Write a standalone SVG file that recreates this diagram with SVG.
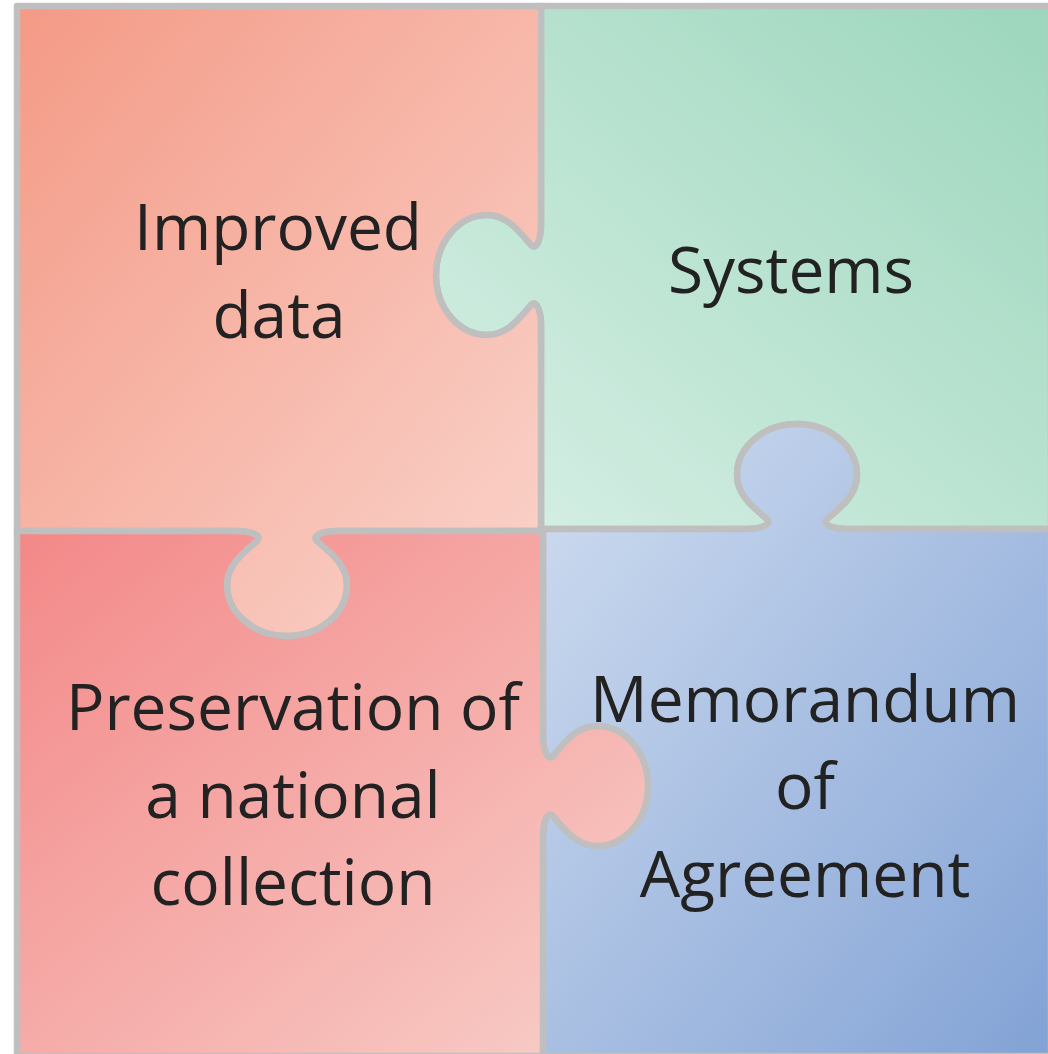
<svg xmlns="http://www.w3.org/2000/svg" width="1048" height="1054" viewBox="0 0 1048 1054">
  <defs>
    <linearGradient id="gTL" x1="0" y1="0" x2="1" y2="1">
      <stop offset="0" stop-color="#F49A86"/>
      <stop offset="1" stop-color="#FAD4CC"/>
    </linearGradient>
    <linearGradient id="gTR" x1="1" y1="0" x2="0" y2="1">
      <stop offset="0" stop-color="#9CD6BC"/>
      <stop offset="1" stop-color="#D8F0E6"/>
    </linearGradient>
    <linearGradient id="gBL" x1="0" y1="0" x2="1" y2="1">
      <stop offset="0" stop-color="#F38888"/>
      <stop offset="1" stop-color="#F8CFC9"/>
    </linearGradient>
    <linearGradient id="gBR" x1="0" y1="0" x2="1" y2="1">
      <stop offset="0" stop-color="#D0DDF0"/>
      <stop offset="1" stop-color="#82A2D5"/>
    </linearGradient>
    <style>
      .piece { stroke: #BFBFBF; stroke-width: 6.5; stroke-linejoin: round; }
      .lbl { font-family: "Open Sans", "DejaVu Sans", sans-serif; font-size: 64px; fill: #222222; text-anchor: middle; }
    </style>
  </defs>
  <rect width="1048" height="1054" fill="#FFFFFF"/>
  <g id="node-systems">
    <path class="piece" fill="url(#gTR)" d="M541,6 L1051,6 L1051,529 L847,529 C837,529 821,526 827,519 C841,507 857,495 857,475 A60 51 0 0 0 737,475 C737,495 753,507 767,519 C773,526 757,529 747,529 L541,529 L541,325 C541,315 538,299 531,305 C519,319 507,335 487,335 A51 60 0 0 1 487,215 C507,215 519,231 531,245 C538,251 541,235 541,225 Z"/>
    <text class="lbl" x="791" y="293">Systems</text>
  </g>
  <g id="node-improved-data">
    <path class="piece" fill="url(#gTL)" d="M17,6 L541,6 L541,225 C541,235 538,251 531,245 C519,231 507,215 487,215 A51 60 0 0 0 487,335 C507,335 519,319 531,305 C538,299 541,315 541,325 L541,531 L337,531 C327,531 311,534 317,541 C331,553 347,565 347,585 A60 51 0 0 1 227,585 C227,565 243,553 257,541 C263,534 247,531 237,531 L17,531 Z"/>
    <text class="lbl" x="278" y="250">Improved</text>
    <text class="lbl" x="279" y="338">data</text>
  </g>
  <g id="node-memorandum">
    <path class="piece" fill="url(#gBR)" d="M543,529 L747,529 C757,529 773,526 767,519 C753,507 737,495 737,475 A60 51 0 0 1 857,475 C857,495 841,507 827,519 C821,526 837,529 847,529 L1051,529 L1051,1056 L543,1056 L543,836 C543,826 546,810 553,816 C565,830 577,846 597,846 A51 60 0 0 0 597,726 C577,726 565,742 553,756 C546,762 543,746 543,736 Z"/>
    <text class="lbl" x="805" y="722">Memorandum</text>
    <text class="lbl" x="805" y="809">of</text>
    <text class="lbl" x="805" y="897">Agreement</text>
  </g>
  <g id="node-preservation">
    <path class="piece" fill="url(#gBL)" d="M17,531 L237,531 C247,531 263,534 257,541 C243,553 227,565 227,585 A60 51 0 0 0 347,585 C347,565 331,553 317,541 C311,534 327,531 337,531 L543,531 L543,736 C543,746 546,762 553,756 C565,742 577,726 597,726 A51 60 0 0 1 597,846 C577,846 565,830 553,816 C546,810 543,826 543,836 L543,1056 L17,1056 Z"/>
    <text class="lbl" x="293" y="730">Preservation of</text>
    <text class="lbl" x="293" y="818">a national</text>
    <text class="lbl" x="293" y="905">collection</text>
  </g>
  <g id="connectors"/>
</svg>
